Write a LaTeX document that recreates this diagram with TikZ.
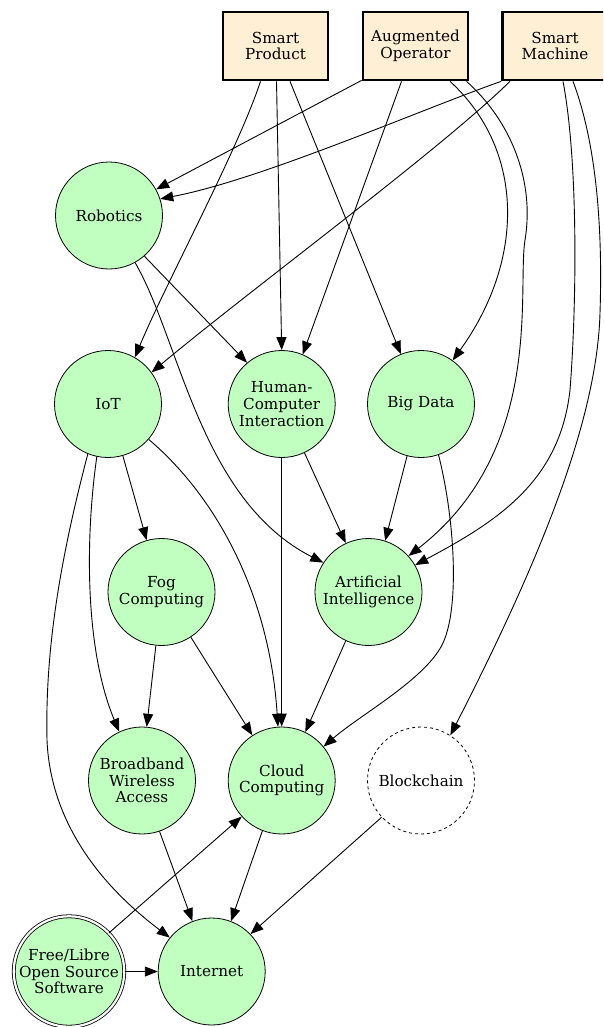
\documentclass[tikz,border=0pt]{standalone}
\usepackage{fontspec}
\setmainfont{DejaVu Serif}
\usetikzlibrary{arrows.meta}
\definecolor{boxfill}{HTML}{FFEFD5}
\definecolor{topicfill}{HTML}{C1FFC1}
\begin{document}
\begin{tikzpicture}[x=1pt,y=-1pt,
  every node/.style={font=\fontsize{15.2}{16.8}\selectfont, align=center, inner sep=0pt},
  driver/.style={rectangle, draw, line width=2.7pt, fill=boxfill, minimum width=105pt, minimum height=68pt},
  topic/.style={circle, draw, line width=0.8pt, fill=topicfill, minimum size=107pt},
  pending/.style={circle, draw, dashed, line width=0.8pt, fill=white, minimum size=107pt},
  basis/.style={circle, draw, line width=0.8pt, fill=topicfill, double=white, double distance=2.2pt, minimum size=110.5pt},
  edge/.style={-{Triangle[length=13pt,width=10pt]}, line width=0.9pt}]
\clip (0,0) rectangle (603,1027);
\fill[white] (0,0) rectangle (603,1027);

% drivers
\node[driver] (sp) at (275.5,46) {Smart\\Product};
\node[driver] (ao) at (415.5,46) {Augmented\\Operator};
\node[driver] (sm) at (555,46) {Smart\\Machine};

% technologies
\node[topic] (rob) at (109,215.5) {Robotics};
\node[topic] (iot) at (108,404) {IoT};
\node[topic] (hci) at (281.7,404) {Human-\\Computer\\Interaction};
\node[topic] (bd) at (421,404) {Big Data};
\node[topic] (fog) at (161.5,592) {Fog\\Computing};
\node[topic] (ai) at (368.5,592) {Artificial\\Intelligence};
\node[topic] (bw) at (142,780.5) {Broadband\\Wireless\\Access};
\node[topic] (cc) at (281.7,780.5) {Cloud\\Computing};
\node[pending] (bc) at (421,780.5) {Blockchain};
\node[basis] (floss) at (69,971.5) {Free/Libre\\Open Source\\Software};
\node[topic] (inet) at (211.7,971.5) {Internet};

% Smart Product
\draw[edge] ([xshift=-15pt]sp.south) .. controls (238,150) and (165,285) .. (iot.60);
\draw[edge] ([xshift=1pt]sp.south) -- (hci.north);
\draw[edge] ([xshift=14.5pt]sp.south) -- (bd.112);

% Augmented Operator
\draw[edge] ([yshift=1pt]ao.south west) -- (rob.29);
\draw[edge] ([xshift=-14pt]ao.south) -- (hci.67);
\draw[edge] ([xshift=34.5pt]ao.south) .. controls (525,150) and (525,260) .. (bd.54);
\draw[edge] ([xshift=51pt]ao.south) .. controls (510,120) and (535,180) .. (525,240)
  .. controls (517,290) and (545,450) .. (ai.42);

% Smart Machine
\draw[edge] (sm.south west) .. controls (420,110) and (260,180) .. (rob.18);
\draw[edge] ([xshift=-45pt]sm.south) .. controls (440,150) and (250,290) .. (iot.36);
\draw[edge] ([xshift=8pt]sm.south) .. controls (578,160) and (577,300) .. (570,390)
  .. controls (560,480) and (500,520) .. (ai.30);
\draw[edge] ([xshift=18pt]sm.south) .. controls (595,140) and (603,220) .. (600,313)
  .. controls (597,420) and (540,560) .. (bc.57);

% Robotics
\draw[edge] (rob.-49) -- (hci.130);
\draw[edge] (rob.-61) .. controls (180,340) and (200,500) .. (ai.147);

% IoT
\draw[edge] (iot.-74) -- (fog.106);
\draw[edge] (iot.-102) .. controls (85,540) and (85,650) .. (bw.115);
\draw[edge] (iot.-112) .. controls (60,560) and (45,650) .. (47,740)
  .. controls (49,790) and (70,862) .. (inet.141);
\draw[edge] (iot.-41) .. controls (220,500) and (270,600) .. (cc.94);

% Human-Computer Interaction
\draw[edge] (hci) -- (cc);
\draw[edge] (hci.-65) -- (ai.115);

% Big Data
\draw[edge] (bd.-105) -- (ai.72);
\draw[edge] (bd.-71) .. controls (455,520) and (460,610) .. (442,645)
  .. controls (424,680) and (360,715) .. (cc.39);

% Fog Computing
\draw[edge] (fog.-96) -- (bw.85);
\draw[edge] (fog.-57) -- (cc.123);

% Artificial Intelligence
\draw[edge] (ai.-115) -- (cc.64);

% lower layers
\draw[edge] (bw.-71) -- (inet.111);
\draw[edge] (cc.-111) -- (inet.69);
\draw[edge] (bc.-137) -- (inet.44);
\draw[edge] (floss.44) -- (cc.222);
\draw[edge] (floss) -- (inet);
\end{tikzpicture}
\end{document}
